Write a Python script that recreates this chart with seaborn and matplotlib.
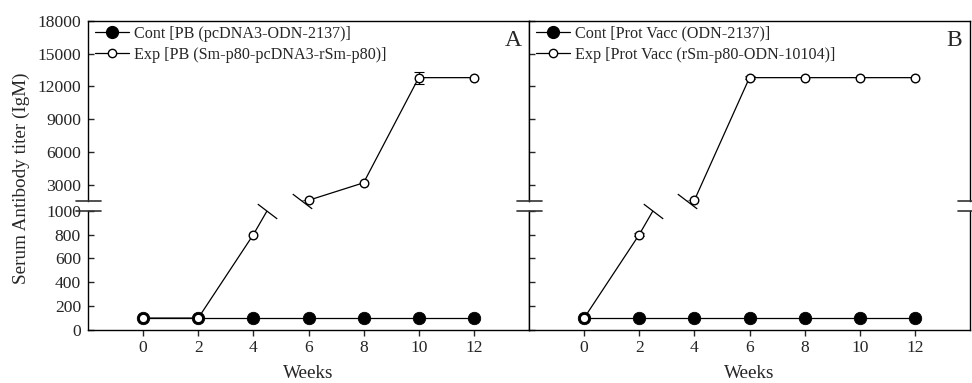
import numpy as np
import pandas as pd
import matplotlib
matplotlib.use("Agg")
import matplotlib.pyplot as plt
from matplotlib.lines import Line2D
from matplotlib.path import Path
import seaborn as sns

# Sampling weeks and serum IgM titers
weeks = [0, 2, 4, 6, 8, 10, 12]

a_cont = [100, 100, 100, 100, 100, 100, 100]
a_exp = [100, 100, 800, 1600, 3200, 12800, 12800]
a_exp_err = [0, 0, 0, 0, 0, 550, 0]

b_cont = [100, 100, 100, 100, 100, 100, 100]
b_exp = [100, 800, 1600, 12800, 12800, 12800, 12800]
b_exp_err = [0, 15, 0, 150, 0, 0, 0]

a_labels = ["Cont [PB (pcDNA3-ODN-2137)]", "Exp [PB (Sm-p80-pcDNA3-rSm-p80)]"]
b_labels = ["Cont [Prot Vacc (ODN-2137)]", "Exp [Prot Vacc (rSm-p80-ODN-10104)]"]
panel_tags = ["A", "B"]

lower_ticks = [0, 200, 400, 600, 800, 1000]
upper_ticks = [3000, 6000, 9000, 12000, 15000, 18000]
x_ticks = [0, 2, 4, 6, 8, 10, 12]

LOW_LIM = (0, 1000)
UP_LIM = (1500, 18000)
X_LIM = (-2, 14)

sns.set_style("ticks")
plt.rcParams["font.family"] = ["Liberation Serif", "DejaVu Serif"]
plt.rcParams["font.size"] = 12

W, H = 972, 383
fig = plt.figure(figsize=(W / 100, H / 100), dpi=100)


def rect(x0, x1, ytop, ybot):
    return [x0 / W, 1 - ybot / H, (x1 - x0) / W, (ybot - ytop) / H]


UP_TOP, UP_BOT = 20.7, 201.4
LO_TOP, LO_BOT = 210.7, 330.0
panels_x = [(88, 529), (529, 970)]

SLASH = Path([(-1.0, 0.76), (1.0, -0.76)], [Path.MOVETO, Path.LINETO])
FILLED_S = 80
OPEN_S = 38
TICK_FS = 12.6


def crossing(w, v, level):
    for i in range(len(v) - 1):
        lo, hi = v[i], v[i + 1]
        if lo <= level < hi:
            return w[i] + (level - lo) / (hi - lo) * (w[i + 1] - w[i])
    return None


def draw_series(ax, vals, err, filled, lim):
    df = pd.DataFrame({"week": weeks, "titer": vals, "err": err})
    sns.lineplot(data=df, x="week", y="titer", ax=ax, color="black",
                 lw=0.9, errorbar=None, zorder=2)
    eb = df[(df["err"] > 0) & (df["titer"] >= lim[0]) & (df["titer"] <= lim[1])]
    if len(eb):
        ax.errorbar(eb["week"], eb["titer"], yerr=eb["err"], fmt="none",
                    ecolor="black", elinewidth=0.8, capsize=3.5, capthick=0.8,
                    zorder=2.5)
    pts = df[(df["titer"] >= lim[0]) & (df["titer"] <= lim[1])]
    sns.scatterplot(data=pts, x="week", y="titer", ax=ax,
                    s=FILLED_S if filled else OPEN_S,
                    color="black" if filled else "white",
                    edgecolor="black", linewidth=1.0 if not filled else 0.6,
                    clip_on=False, zorder=3 if filled else 4, legend=False)


series = [
    (a_cont, [0] * 7, a_exp, a_exp_err, a_labels),
    (b_cont, [0] * 7, b_exp, b_exp_err, b_labels),
]

for p, ((x0, x1), (cont, cont_err, exp, exp_err, labels)) in enumerate(zip(panels_x, series)):
    ax_up = fig.add_axes(rect(x0, x1, UP_TOP, UP_BOT))
    ax_lo = fig.add_axes(rect(x0, x1, LO_TOP, LO_BOT))

    for ax, lim in ((ax_up, UP_LIM), (ax_lo, LOW_LIM)):
        draw_series(ax, cont, cont_err, True, lim)
        draw_series(ax, exp, exp_err, False, lim)
        ax.set_xlim(*X_LIM)
        ax.set_ylim(*lim)
        ax.set_xlabel("")
        ax.set_ylabel("")
        for s in ax.spines.values():
            s.set_linewidth(1.0)
            s.set_color("black")

    # Break slashes where the experimental line leaves each axis segment
    xc_lo = crossing(weeks, exp, LOW_LIM[1])
    xc_up = crossing(weeks, exp, UP_LIM[0])
    ax_lo.plot([xc_lo], [LOW_LIM[1]], marker=SLASH, ms=14, mew=0.9,
               color="black", clip_on=False, zorder=5)
    ax_up.plot([xc_up], [UP_LIM[0]], marker=SLASH, ms=14, mew=0.9,
               color="black", clip_on=False, zorder=5)

    ax_up.spines["bottom"].set_visible(False)
    ax_lo.spines["top"].set_visible(False)

    ax_up.set_yticks(upper_ticks)
    ax_lo.set_yticks(lower_ticks)
    ax_up.set_xticks([])
    ax_lo.set_xticks(x_ticks)
    ax_lo.set_xticklabels([str(t) for t in x_ticks])
    ax_up.tick_params(axis="y", direction="in", length=4, width=1, pad=5,
                      labelsize=TICK_FS, labelleft=(p == 0))
    ax_lo.tick_params(axis="y", direction="in", length=4, width=1, pad=5,
                      labelsize=TICK_FS, labelleft=(p == 0))
    ax_lo.tick_params(axis="x", direction="out", length=4, width=1, pad=3,
                      labelsize=TICK_FS)

    handles = [
        Line2D([], [], color="black", lw=0.9, marker="o", ms=8.5,
               mfc="black", mec="black"),
        Line2D([], [], color="black", lw=0.9, marker="o", ms=6,
               mfc="white", mec="black", mew=1.0),
    ]
    ax_up.legend(handles, labels, loc="upper left",
                 bbox_to_anchor=((x0 + 7) / W, 1 - 25.5 / H),
                 bbox_transform=fig.transFigure, frameon=False,
                 fontsize=11.6, handlelength=2.1, handletextpad=0.35,
                 labelspacing=0.32, borderpad=0, borderaxespad=0)

    fig.text((x1 - 16) / W, 1 - 40 / H, panel_tags[p], fontsize=17,
             ha="center", va="center")
    fig.text((x0 + x1) / 2 / W, 1 - 374 / H, "Weeks", fontsize=13.8,
             ha="center", va="center")

# Axis-break ticks across each vertical spine
for xs in (88, 529, 970):
    for yy in (UP_BOT, LO_TOP):
        fig.add_artist(Line2D([(xs - 12) / W, (xs + 13) / W],
                              [1 - yy / H, 1 - yy / H],
                              transform=fig.transFigure, color="#333333",
                              lw=1.2))

fig.text(21 / W, 1 - 178 / H, "Serum Antibody titer (IgM)", fontsize=13.8,
         rotation=90, ha="center", va="center")

fig.savefig("out.png", dpi=100, facecolor="white")
